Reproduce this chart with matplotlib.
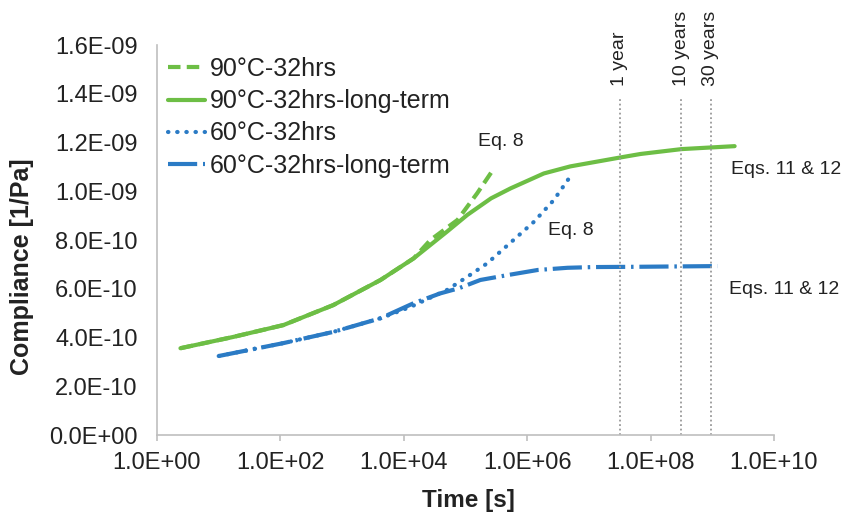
import matplotlib
matplotlib.use("Agg")
import matplotlib.pyplot as plt
from matplotlib.ticker import FixedLocator, FuncFormatter, NullLocator

plt.rcParams["font.family"] = ["Liberation Sans", "DejaVu Sans"]

# ---- data (time in s, compliance in 1e-9 1/Pa) ----
t_90_lt = [2.4, 17, 112, 720, 4.2e3, 1.45e4, 5.0e4, 1.07e5, 2.6e5, 5.4e5,
           1.86e6, 5.0e6, 3.3e7, 6.9e7, 3.2e8, 2.3e9]
c_90_lt = [0.356, 0.402, 0.451, 0.533, 0.636, 0.725, 0.834, 0.903, 0.971, 1.012,
           1.073, 1.102, 1.139, 1.153, 1.173, 1.185]

t_90 = [2.4, 17, 112, 720, 4.2e3, 1.45e4, 2.7e4, 7.4e4, 1.55e5, 2.9e5]
c_90 = [0.356, 0.402, 0.451, 0.533, 0.636, 0.725, 0.80, 0.882, 0.992, 1.094]

t_60 = [10, 112, 720, 4.2e3, 1.3e4, 5.0e4, 1.07e5, 2.24e5, 6.0e5, 1.29e6, 2.7e6, 5.4e6]
c_60 = [0.324, 0.377, 0.423, 0.479, 0.526, 0.595, 0.649, 0.704, 0.80, 0.875, 0.964, 1.073]

t_60_lt = [10, 112, 720, 4.2e3, 1.45e4, 3.9e4, 7.8e4, 1.74e5, 4.8e5, 1.48e6,
           4.5e6, 1.2e7, 5.4e7, 1.23e9]
c_60_lt = [0.324, 0.377, 0.423, 0.479, 0.541, 0.581, 0.602, 0.636, 0.656, 0.677,
           0.686, 0.689, 0.690, 0.693]

scale = 1e-9
marks_t = [3.1536e7, 3.1536e8, 9.4608e8]
marks_lbl = ["1 year", "10 years", "30 years"]

x_ticks = [1e0, 1e2, 1e4, 1e6, 1e8, 1e10]
y_ticks = [0, 0.2e-9, 0.4e-9, 0.6e-9, 0.8e-9, 1.0e-9, 1.2e-9, 1.4e-9, 1.6e-9]

GREEN = "#6DBE45"
BLUE = "#2B7BC5"
W, H = 845, 522

fig = plt.figure(figsize=(W / 100, H / 100), dpi=100)
ax = fig.add_axes([157 / W, 1 - 435 / H, (774 - 157) / W, (435 - 45) / H])

ax.plot(t_90, [c * scale for c in c_90], color=GREEN, lw=3,
        linestyle=(0, (3, 1.5)), label="90°C-32hrs")
ax.plot(t_90_lt, [c * scale for c in c_90_lt], color=GREEN, lw=3,
        solid_capstyle="round", solid_joinstyle="round", label="90°C-32hrs-long-term")
ax.plot(t_60, [c * scale for c in c_60], color=BLUE, lw=3,
        linestyle=(0, (0.1, 2.1)), dash_capstyle="round", label="60°C-32hrs")
ax.plot(t_60_lt, [c * scale for c in c_60_lt], color=BLUE, lw=3,
        linestyle=(0, (7, 1.4, 0.6, 1.4)), label="60°C-32hrs-long-term")

for t, lbl in zip(marks_t, marks_lbl):
    ax.plot([t, t], [0, 1.38e-9], color="#999999", lw=1.3, linestyle=(0, (1, 1.5)))
    ax.text(t, 1.432e-9, lbl, rotation=90, ha="center", va="bottom",
            fontsize=14, color="#222222", clip_on=False)

ax.text(10 ** 5.58, 1.206e-9, "Eq. 8", ha="center", va="center", fontsize=14, color="#222222")
ax.text(10 ** 6.70, 0.837e-9, "Eq. 8", ha="center", va="center", fontsize=14, color="#222222")
ax.text(10 ** 9.30, 1.089e-9, "Eqs. 11 & 12", ha="left", va="center", fontsize=14,
        color="#222222", clip_on=False)
ax.text(10 ** 9.27, 0.597e-9, "Eqs. 11 & 12", ha="left", va="center", fontsize=14,
        color="#222222", clip_on=False)

ax.set_xscale("log")
ax.set_xlim(1e0, 1e10)
ax.set_ylim(0, 1.6e-9)
ax.xaxis.set_major_locator(FixedLocator(x_ticks))
ax.xaxis.set_minor_locator(NullLocator())
ax.xaxis.set_major_formatter(FuncFormatter(lambda v, p: f"{v:.1E}"))
ax.yaxis.set_major_locator(FixedLocator(y_ticks))
ax.yaxis.set_major_formatter(FuncFormatter(lambda v, p: f"{v:.1E}"))

for s in ["top", "right"]:
    ax.spines[s].set_visible(False)
for s in ["left", "bottom"]:
    ax.spines[s].set_color("#BFBFBF")
    ax.spines[s].set_linewidth(1.2)
ax.tick_params(axis="x", length=4, width=1.2, color="#BFBFBF", pad=8,
               labelsize=17, labelcolor="#222222")
ax.tick_params(axis="y", length=0, pad=14, labelsize=17, labelcolor="#222222")

fig.text(468 / W, 1 - 500 / H, "Time [s]", ha="center", va="center",
         fontsize=17.5, fontweight="bold", color="#222222")
fig.text(22 / W, 1 - 267 / H, "Compliance [1/Pa]", ha="center", va="center",
         rotation=90, fontsize=18, fontweight="bold", color="#222222")

leg = ax.legend(loc="upper left", bbox_to_anchor=(168 / W, 1 - 57 / H),
                bbox_transform=fig.transFigure, frameon=False, fontsize=18,
                handlelength=1.48, handletextpad=0.2, labelspacing=0.33,
                borderpad=0, borderaxespad=0)
for txt in leg.get_texts():
    txt.set_color("#222222")

fig.savefig("out.png", dpi=100)
